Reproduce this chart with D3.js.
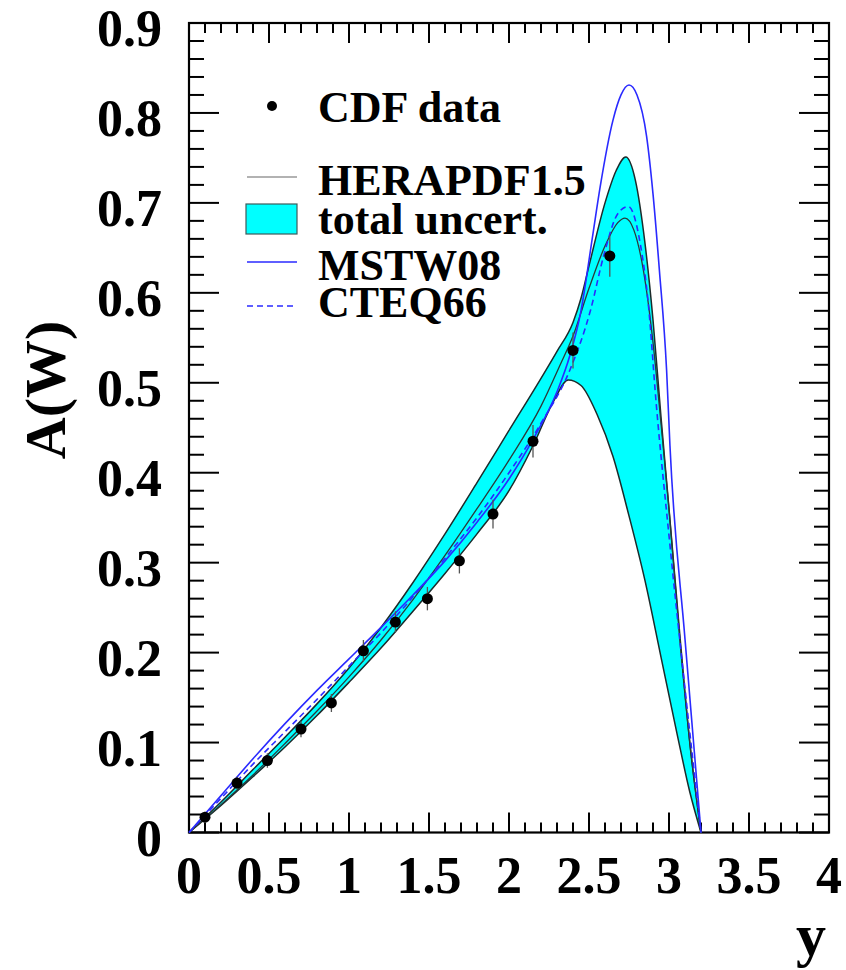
<!DOCTYPE html>
<html lang="en">
<head>
<meta charset="UTF-8">
<title>A(W) vs y</title>
<style>
  body { margin: 0; background: #fff; }
  text { font-family: "Liberation Serif", "Times New Roman", serif; font-weight: bold; fill: #000; }
</style>
</head>
<body>
<div id="chart"></div>
<script src="https://d3js.org/d3.v7.min.js"></script>
<script>
// CDF data points: rapidity, asymmetry, error
var cdfY   = [0.10, 0.30, 0.49, 0.70, 0.89, 1.09, 1.29, 1.49, 1.69, 1.90, 2.15, 2.40, 2.63];
var cdfA   = [0.017, 0.055, 0.080, 0.115, 0.144, 0.202, 0.234, 0.260, 0.302, 0.354, 0.435, 0.536, 0.641];
var cdfErr = [0.006, 0.007, 0.008, 0.009, 0.010, 0.012, 0.012, 0.013, 0.014, 0.016, 0.018, 0.020, 0.023];

// HERAPDF1.5 band edges and central curve  [y, A]
var bandUp = [[0,0],[0.2,0.034],[0.4,0.070],[0.6,0.106],[0.8,0.143],[1.0,0.183],[1.2,0.228],[1.4,0.278],
  [1.6,0.332],[1.8,0.389],[2.0,0.447],[2.2,0.505],[2.3,0.535],[2.4,0.567],[2.45,0.594],[2.5,0.630],
  [2.6,0.700],[2.67,0.736],[2.73,0.751],[2.79,0.725],[2.85,0.655],[2.9,0.570],[2.95,0.462],[3.0,0.360],
  [3.07,0.215],[3.13,0.100],[3.2,0]];
var bandLow = [[0,0],[0.2,0.030],[0.4,0.062],[0.6,0.095],[0.8,0.130],[1.0,0.167],[1.2,0.205],[1.4,0.246],
  [1.6,0.288],[1.8,0.332],[2.0,0.380],[2.15,0.430],[2.28,0.480],[2.37,0.503],[2.45,0.497],[2.55,0.465],
  [2.65,0.418],[2.75,0.352],[2.85,0.280],[2.95,0.195],[3.05,0.110],[3.13,0.045],[3.2,0]];
var heraCentral = [[0,0],[0.2,0.031],[0.4,0.064],[0.6,0.099],[0.8,0.135],[1.0,0.173],[1.2,0.214],[1.4,0.259],
  [1.6,0.308],[1.8,0.360],[2.0,0.414],[2.2,0.474],[2.32,0.520],[2.4,0.552],[2.5,0.605],[2.6,0.652],
  [2.68,0.678],[2.725,0.683],[2.78,0.670],[2.84,0.625],[2.9,0.545],[2.95,0.455],[3.0,0.360],[3.07,0.210],[3.13,0.100],[3.2,0]];
var mstw08 = [[0,0],[0.2,0.041],[0.4,0.082],[0.6,0.121],[0.8,0.158],[1.0,0.193],[1.2,0.228],[1.4,0.264],
  [1.6,0.302],[1.8,0.345],[2.0,0.393],[2.15,0.437],[2.3,0.490],[2.38,0.530],[2.45,0.580],[2.52,0.660],
  [2.57,0.718],[2.65,0.792],[2.7,0.820],[2.75,0.831],[2.8,0.820],[2.86,0.774],[2.9,0.710],[2.94,0.625],
  [2.985,0.514],[3.006,0.430],[3.1,0.215],[3.2,0]];
var cteq66 = [[0,0],[0.2,0.038],[0.4,0.076],[0.6,0.112],[0.8,0.148],[1.0,0.185],[1.2,0.222],[1.4,0.262],
  [1.6,0.305],[1.8,0.350],[2.0,0.400],[2.2,0.455],[2.38,0.514],[2.51,0.581],[2.59,0.640],[2.68,0.688],
  [2.746,0.696],[2.82,0.655],[2.87,0.589],[2.92,0.477],[3.0,0.330],[3.1,0.160],[3.2,0]];

var xTickLabels = ["0", "0.5", "1", "1.5", "2", "2.5", "3", "3.5", "4"];
var yTickLabels = ["0", "0.1", "0.2", "0.3", "0.4", "0.5", "0.6", "0.7", "0.8", "0.9"];
var legendLabels = ["CDF data", "HERAPDF1.5", "total uncert.", "MSTW08", "CTEQ66"];

var W = 846, H = 970;
var margin = {top: 23, left: 189, right: 17, bottom: 137.5};
var w = W - margin.left - margin.right, h = H - margin.top - margin.bottom;

var svg = d3.select("#chart").append("svg").attr("width", W).attr("height", H);
var g = svg.append("g").attr("transform", "translate(" + margin.left + "," + margin.top + ")");

var x = d3.scaleLinear().domain([0, 4]).range([0, w]);
var y = d3.scaleLinear().domain([0, 0.9]).range([h, 0]);

var line = d3.line().x(function(d){ return x(d[0]); }).y(function(d){ return y(d[1]); }).curve(d3.curveMonotoneX);
var area = d3.area().x(function(d){ return x(d[0]); }).y0(y(0)).y1(function(d){ return y(d[1]); }).curve(d3.curveMonotoneX);

// band: cyan under the upper edge, white under the lower edge
g.append("path").attr("d", area(bandUp)).attr("fill", "#00ffff");
g.append("path").attr("d", area(bandLow)).attr("fill", "#fff");

// frame + ticks
g.append("rect").attr("width", w).attr("height", h).attr("fill", "none").attr("stroke", "#000").attr("stroke-width", 2.2);

var xt = d3.range(0, 41).map(function(i){ return i / 10; });
xt.forEach(function(v, i) {
  var len = (i % 5 == 0) ? 20 : 10;
  g.append("line").attr("x1", x(v)).attr("x2", x(v)).attr("y1", h).attr("y2", h - len).attr("stroke", "#000").attr("stroke-width", 2);
  g.append("line").attr("x1", x(v)).attr("x2", x(v)).attr("y1", 0).attr("y2", len).attr("stroke", "#000").attr("stroke-width", 2);
});
var yt = d3.range(0, 46).map(function(i){ return i / 50; });
yt.forEach(function(v, i) {
  var len = (i % 5 == 0) ? 30 : 15;
  g.append("line").attr("x1", 0).attr("x2", len).attr("y1", y(v)).attr("y2", y(v)).attr("stroke", "#000").attr("stroke-width", 2);
  g.append("line").attr("x1", w).attr("x2", w - len).attr("y1", y(v)).attr("y2", y(v)).attr("stroke", "#000").attr("stroke-width", 2);
});

xTickLabels.forEach(function(t) {
  g.append("text").attr("x", x(+t)).attr("y", h + 60).attr("text-anchor", "middle").style("font-size", "52px").text(t);
});
yTickLabels.forEach(function(t) {
  g.append("text").attr("x", -27).attr("y", y(+t) + 23).attr("text-anchor", "end").style("font-size", "52px").text(t);
});

// axis titles
svg.append("text").attr("x", 826).attr("y", 955).attr("text-anchor", "end").style("font-size", "60px").text("y");
svg.append("text").attr("transform", "translate(65,390) rotate(-90)").attr("text-anchor", "middle").style("font-size", "58px").text("A(W)");

// band edges and curves
g.append("path").attr("d", line(bandUp)).attr("fill", "none").attr("stroke", "#1c2b2b").attr("stroke-width", 1.5);
g.append("path").attr("d", line(bandLow)).attr("fill", "none").attr("stroke", "#1c2b2b").attr("stroke-width", 1.5);
g.append("path").attr("d", line(heraCentral)).attr("fill", "none").attr("stroke", "#2a3a3a").attr("stroke-width", 1.3);
g.append("path").attr("d", line(mstw08)).attr("fill", "none").attr("stroke", "#2a2aff").attr("stroke-width", 1.6);
g.append("path").attr("d", line(cteq66)).attr("fill", "none").attr("stroke", "#2a2aff").attr("stroke-width", 1.6).attr("stroke-dasharray", "6,4");

// data points with error bars
g.selectAll(".err").data(cdfY).enter().append("line")
  .attr("x1", function(d){ return x(d); }).attr("x2", function(d){ return x(d); })
  .attr("y1", function(d, i){ return y(cdfA[i] - cdfErr[i]); })
  .attr("y2", function(d, i){ return y(cdfA[i] + cdfErr[i]); })
  .attr("stroke", "#555").attr("stroke-width", 1.3);
g.selectAll(".pt").data(cdfY).enter().append("circle")
  .attr("cx", function(d){ return x(d); }).attr("cy", function(d, i){ return y(cdfA[i]); })
  .attr("r", 5.5).attr("fill", "#000");

// legend
var legBase = [122, 195, 234, 280, 317];
svg.append("circle").attr("cx", 272).attr("cy", 106).attr("r", 5).attr("fill", "#000");
svg.append("line").attr("x1", 247).attr("x2", 297).attr("y1", 177).attr("y2", 177).attr("stroke", "#999").attr("stroke-width", 1.5);
svg.append("rect").attr("x", 246).attr("y", 204).attr("width", 51).attr("height", 30).attr("fill", "#00ffff").attr("stroke", "#3c5a5a").attr("stroke-width", 1.2);
svg.append("line").attr("x1", 247).attr("x2", 297).attr("y1", 262).attr("y2", 262).attr("stroke", "#2a2aff").attr("stroke-width", 1.6);
svg.append("line").attr("x1", 247).attr("x2", 297).attr("y1", 306).attr("y2", 306).attr("stroke", "#2a2aff").attr("stroke-width", 1.6).attr("stroke-dasharray", "6,4");
legendLabels.forEach(function(t, i) {
  svg.append("text").attr("x", 318).attr("y", legBase[i]).style("font-size", "44px").text(t);
});
</script>
</body>
</html>
